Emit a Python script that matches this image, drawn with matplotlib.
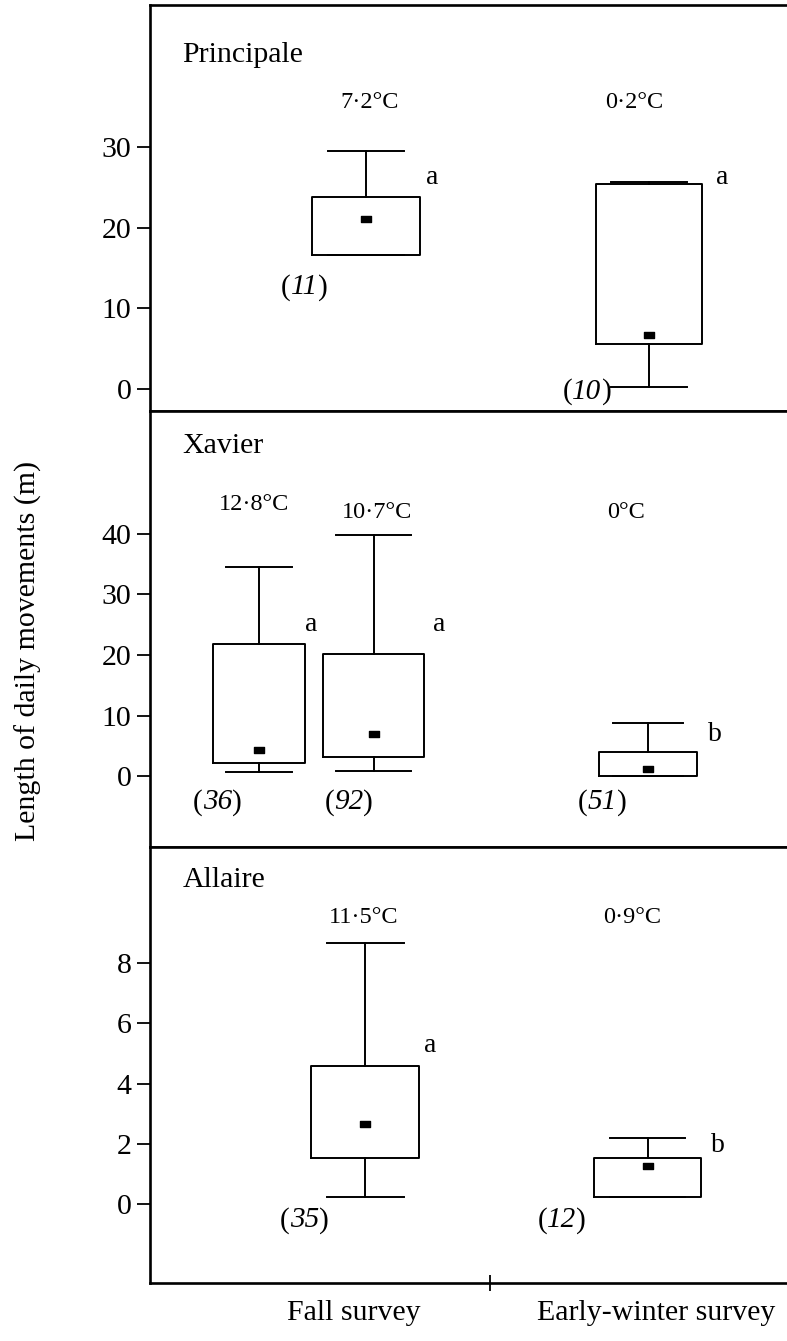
import matplotlib
matplotlib.use("Agg")
import matplotlib.pyplot as plt
from matplotlib.path import Path
from matplotlib.offsetbox import TextArea, HPacker, AnnotationBbox

plt.rcParams['font.family'] = ['Liberation Serif', 'DejaVu Serif']

# ---------------- data ----------------
sites = ["Principale", "Xavier", "Allaire"]
surveys = ["Fall survey", "Early-winter survey"]

# Principale: fall, early-winter
principale_q1 = [16.6, 5.5]
principale_q3 = [23.8, 25.4]
principale_lo = [16.6, 0.2]
principale_hi = [29.6, 25.7]
principale_mean = [21.1, 6.7]
principale_n = ["11", "10"]
principale_temp = ["7·2°C", "0·2°C"]
principale_letter = ["a", "a"]

# Xavier: fall (two sessions), early-winter
xavier_q1 = [2.1, 3.1, 0.0]
xavier_q3 = [21.8, 20.2, 4.0]
xavier_lo = [0.7, 0.8, 0.0]
xavier_hi = [34.5, 39.8, 8.8]
xavier_mean = [4.3, 6.9, 1.2]
xavier_n = ["36", "92", "51"]
xavier_temp = ["12·8°C", "10·7°C", "0°C"]
xavier_letter = ["a", "a", "b"]

# Allaire: fall, early-winter
allaire_q1 = [1.53, 0.23]
allaire_q3 = [4.58, 1.53]
allaire_lo = [0.23, 0.23]
allaire_hi = [8.67, 2.19]
allaire_mean = [2.66, 1.26]
allaire_n = ["35", "12"]
allaire_temp = ["11·5°C", "0·9°C"]
allaire_letter = ["a", "b"]

principale_ticks = [0, 10, 20, 30]
xavier_ticks = [0, 10, 20, 30, 40]
allaire_ticks = [0, 2, 4, 6, 8]

# ---------------- layout ----------------
W, H, DPI = 787, 1341, 100
fig = plt.figure(figsize=(W / DPI, H / DPI), dpi=DPI)

left_px = 150
xmax = (W - left_px) / 100.0 + 0.02

panels = [
    dict(top=5, bot=411, ylim=(-2.79, 47.7), ticks=principale_ticks,
         q1=principale_q1, q3=principale_q3, lo=principale_lo, hi=principale_hi,
         mean=principale_mean, n=principale_n, temp=principale_temp, letter=principale_letter,
         pos=[2.14, 4.945], widths=[1.07, 1.05], caps=[0.76, 0.75],
         name_y=41.5, temp_xy=[(2.18, 35.6), (4.80, 35.6)],
         let_xy=[(2.80, 26.3), (5.67, 26.3)], n_xy=[(1.53, 12.6), (4.33, -0.4)]),
    dict(top=411, bot=847, ylim=(-11.7, 60.3), ticks=xavier_ticks,
         q1=xavier_q1, q3=xavier_q3, lo=xavier_lo, hi=xavier_hi,
         mean=xavier_mean, n=xavier_n, temp=xavier_temp, letter=xavier_letter,
         pos=[1.08, 2.215, 4.935], widths=[0.92, 1.01, 0.97], caps=[0.65, 0.75, 0.70],
         name_y=54.5, temp_xy=[(1.03, 44.8), (2.25, 43.5), (4.72, 43.6)],
         let_xy=[(1.60, 25.0), (2.87, 25.0), (5.60, 6.8)],
         n_xy=[(0.67, -4.3), (1.97, -4.3), (4.48, -4.3)]),
    dict(top=847, bot=1283, ylim=(-2.62, 11.86), ticks=allaire_ticks,
         q1=allaire_q1, q3=allaire_q3, lo=allaire_lo, hi=allaire_hi,
         mean=allaire_mean, n=allaire_n, temp=allaire_temp, letter=allaire_letter,
         pos=[2.135, 4.93], widths=[1.07, 1.06], caps=[0.76, 0.74],
         name_y=10.76, temp_xy=[(2.12, 9.53), (4.78, 9.53)],
         let_xy=[(2.78, 5.28), (5.63, 1.96)], n_xy=[(1.53, -0.53), (4.08, -0.53)]),
]

rect = Path([(-1, -0.55), (1, -0.55), (1, 0.55), (-1, 0.55), (-1, -0.55)],
            [Path.MOVETO, Path.LINETO, Path.LINETO, Path.LINETO, Path.CLOSEPOLY])

lw = 1.4
n_size = 21


def n_label(ax, xy, n):
    up = dict(fontsize=n_size, family='Liberation Serif')
    it = dict(fontsize=n_size, family='Liberation Serif', style='italic')
    box = HPacker(children=[TextArea("(", textprops=up),
                            TextArea(n, textprops=it),
                            TextArea(")", textprops=up)],
                  align="baseline", pad=0, sep=0)
    ab = AnnotationBbox(box, xy, xycoords='data', frameon=False,
                        box_alignment=(0.5, 0.5), pad=0)
    ax.add_artist(ab)


axes = []
for i, p in enumerate(panels):
    ax = fig.add_axes([left_px / W, 1 - p['bot'] / H,
                       (W - left_px) / W + 0.01, (p['bot'] - p['top']) / H])
    axes.append(ax)
    stats = []
    for k in range(len(p['q1'])):
        stats.append(dict(med=p['mean'][k], q1=p['q1'][k], q3=p['q3'][k],
                          whislo=p['lo'][k], whishi=p['hi'][k], mean=p['mean'][k],
                          fliers=[]))
    ax.bxp(stats, positions=p['pos'], widths=p['widths'], capwidths=p['caps'],
           showmeans=True, showfliers=False,
           boxprops=dict(color='black', linewidth=lw),
           whiskerprops=dict(color='black', linewidth=lw),
           capprops=dict(color='black', linewidth=lw),
           medianprops=dict(linewidth=0),
           meanprops=dict(marker=rect, markerfacecolor='black',
                          markeredgecolor='black', markersize=7.5, linestyle='none'))
    ax.set_xlim(0, xmax)
    ax.set_ylim(*p['ylim'])
    ax.set_yticks(p['ticks'])
    ax.set_yticklabels([str(t) for t in p['ticks']], fontsize=21.5)
    ax.tick_params(axis='y', direction='out', length=9.5, width=1.3, pad=4)
    for s in ['left', 'top', 'bottom']:
        ax.spines[s].set_linewidth(1.9)
    ax.spines['right'].set_visible(False)

    ax.text(0.32, p['name_y'], sites[i], fontsize=21.5, ha='left', va='center')
    for k in range(len(p['q1'])):
        ax.text(*p['temp_xy'][k], p['temp'][k], fontsize=17.5, ha='center', va='center')
        ax.text(*p['let_xy'][k], p['letter'][k], fontsize=20, ha='center', va='center')
        n_label(ax, p['n_xy'][k], p['n'][k])

    if i < 2:
        ax.set_xticks([])
    else:
        ax.set_xticks([3.37])
        ax.set_xticklabels([''])
        ax.tick_params(axis='x', which='major', direction='inout', length=12, width=1.3)
        ax.set_xticks([2.02, 5.02], surveys, minor=True)
        ax.tick_params(axis='x', which='minor', length=0, pad=12, labelsize=21.5)

fig.text(28 / W, 1 - 651 / H, "Length of daily movements (m)", rotation=90,
         fontsize=21.5, ha='center', va='center')

fig.savefig("out.png", dpi=DPI)
